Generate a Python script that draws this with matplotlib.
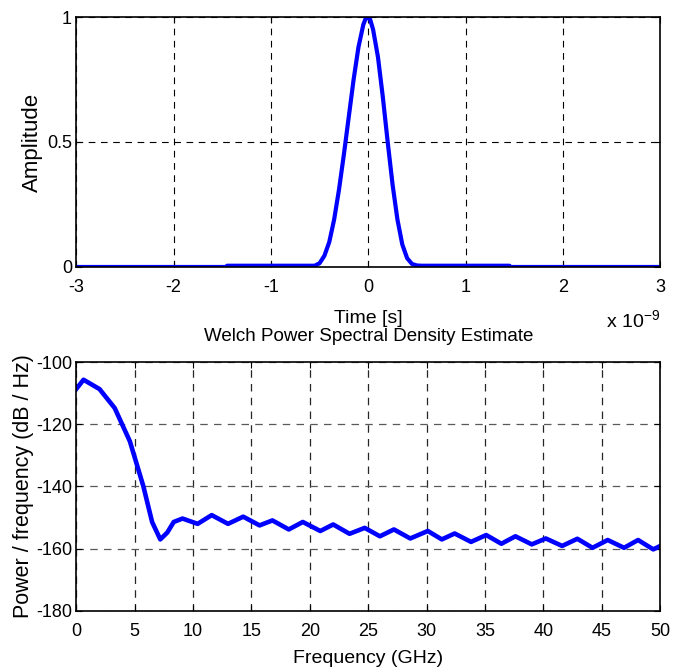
import matplotlib
matplotlib.use('Agg')
import matplotlib.pyplot as plt

# pulse in time domain (time in ns)
t_ns = [-3.0, -1.45, -1.45, -0.55, -0.5, -0.45, -0.4, -0.35, -0.3, -0.25, -0.2,
        -0.15, -0.1, -0.05, -0.02, 0.02, 0.05, 0.1, 0.15, 0.2, 0.25, 0.3, 0.35,
        0.4, 0.45, 0.5, 0.55, 1.45, 1.45, 3.0]
amp = [0.0, 0.0, 0.005, 0.005, 0.015, 0.045, 0.1, 0.19, 0.31, 0.45, 0.6,
       0.75, 0.88, 0.97, 1.0, 0.99, 0.95, 0.84, 0.68, 0.5, 0.33, 0.19, 0.09,
       0.035, 0.012, 0.006, 0.005, 0.005, 0.0, 0.0]

# Welch PSD estimate
freq_ghz = [0.0, 0.63, 2.0, 3.3, 4.6, 5.75, 6.5, 7.2, 7.8, 8.35, 9.1, 10.4,
            11.6, 13.0, 14.3, 15.7, 16.8, 18.2, 19.4, 20.9, 22.0, 23.4, 24.7,
            26.0, 27.2, 28.6, 30.1, 31.3, 32.4, 33.8, 35.1, 36.4, 37.6, 39.0,
            40.2, 41.6, 42.9, 44.2, 45.5, 46.9, 48.1, 49.4, 50.0]
psd_db = [-108.7, -105.7, -108.7, -114.8, -125.5, -139.9, -151.4, -157.0,
          -154.8, -151.4, -150.3, -152.0, -149.2, -152.0, -149.7, -152.5,
          -150.9, -153.8, -151.4, -154.3, -152.2, -155.2, -153.3, -156.0,
          -153.8, -156.7, -154.3, -157.0, -155.1, -157.8, -155.6, -158.4,
          -156.0, -158.6, -156.7, -159.1, -156.8, -159.7, -157.2, -159.7,
          -157.2, -160.2, -159.1]

plt.rcParams['font.family'] = ['Liberation Sans', 'DejaVu Sans']
plt.rcParams['axes.unicode_minus'] = False
plt.rcParams['mathtext.default'] = 'regular'

fig = plt.figure(figsize=(6.8, 6.72), dpi=100)

ax1 = fig.add_axes([0.112, 0.6027, 0.859, 0.372])
ax1.plot(t_ns, amp, color='#0000ff', lw=3)
ax1.set_xlim(-3, 3)
ax1.set_ylim(0, 1)
ax1.set_xticks([-3, -2, -1, 0, 1, 2, 3])
ax1.set_yticks([0, 0.5, 1])
ax1.set_yticklabels(['0', '0.5', '1'])
ax1.grid(True, color='black', ls=(0, (6, 5)), lw=0.8)
ax1.set_ylabel('Amplitude', fontsize=16, labelpad=3)
ax1.set_xlabel('Time [s]', fontsize=14, labelpad=10)
ax1.text(1.0, -0.17, 'x 10$^{-9}$', transform=ax1.transAxes,
         ha='right', va='top', fontsize=14)

ax2 = fig.add_axes([0.112, 0.0908, 0.859, 0.3705])
ax2.plot(freq_ghz, psd_db, color='#0000ff', lw=3.3)
ax2.set_xlim(0, 50)
ax2.set_ylim(-180, -100)
ax2.set_xticks(range(0, 51, 5))
ax2.set_yticks(range(-180, -99, 20))
ax2.grid(True, axis='x', color='0.15', ls=(0, (6, 5)), lw=0.9)
ax2.grid(True, axis='y', color='0.35', ls=(0, (6, 5)), lw=0.9)
ax2.set_title('Welch Power Spectral Density Estimate', fontsize=13.5, pad=15)
ax2.set_xlabel('Frequency (GHz)', fontsize=14, labelpad=7)
ax2.set_ylabel('Power / frequency (dB / Hz)', fontsize=15.5, labelpad=1)

for ax in (ax1, ax2):
    ax.tick_params(direction='in', length=4, width=0.8, top=True, right=True,
                   labelsize=13)
    ax.tick_params(axis='x', pad=9)
    ax.tick_params(axis='y', pad=3)
    for s in ax.spines.values():
        s.set_linewidth(1.2)
    ax.set_axisbelow(True)

fig.savefig('out.png', dpi=100)
